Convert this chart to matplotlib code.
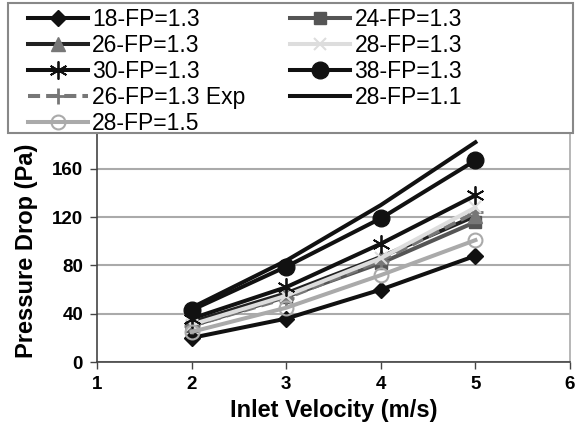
import matplotlib
matplotlib.use("Agg")
import matplotlib.pyplot as plt
from matplotlib.patches import Rectangle

plt.rcParams['font.family'] = ['Liberation Sans', 'DejaVu Sans']

velocity = [2, 3, 4, 5]

dp_18_fp13 = [20, 36, 60, 88]
dp_24_fp13 = [30, 54, 82, 116]
dp_26_fp13 = [33, 57, 87, 121]
dp_28_fp13 = [31, 55, 86, 128]
dp_30_fp13 = [36, 62, 98, 138]
dp_38_fp13 = [43, 79, 119, 167]
dp_26_fp13_exp = [30, 53, 84, 124]
dp_28_fp11 = [45, 84, 130, 182]
dp_28_fp15 = [25, 45, 72, 101]

W, H = 579, 429
fig = plt.figure(figsize=(W / 100, H / 100), dpi=100)
ax = fig.add_axes([0.1675, 0.156, 0.817, 0.563])

lw = 2.9
h = {}
h["28-FP=1.1"], = ax.plot(velocity, dp_28_fp11, color="#111111", lw=lw)
h["18-FP=1.3"], = ax.plot(velocity, dp_18_fp13, color="#111111", lw=lw,
                          marker="D", ms=8, mfc="#111111", mec="#111111")
h["24-FP=1.3"], = ax.plot(velocity, dp_24_fp13, color="#555555", lw=lw,
                          marker="s", ms=9, mfc="#555555", mec="#555555")
h["26-FP=1.3"], = ax.plot(velocity, dp_26_fp13, color="#222222", lw=lw,
                          marker="^", ms=10, mfc="#777777", mec="#777777")
h["26-FP=1.3 Exp"], = ax.plot(velocity, dp_26_fp13_exp, color="#777777", lw=lw,
                              ls=(0, (3, 1.5)), marker="+", ms=11, mew=2)
h["28-FP=1.3"], = ax.plot(velocity, dp_28_fp13, color="#dddddd", lw=lw,
                          marker="x", ms=9, mew=1.5)
h["30-FP=1.3"], = ax.plot(velocity, dp_30_fp13, color="#111111", lw=lw,
                          marker=(6, 2, 0), ms=13, mew=1.3)
h["28-FP=1.5"], = ax.plot(velocity, dp_28_fp15, color="#aaaaaa", lw=lw,
                          marker="o", ms=10, mfc="none", mec="#aaaaaa", mew=1.5)
h["38-FP=1.3"], = ax.plot(velocity, dp_38_fp13, color="#111111", lw=lw,
                          marker="o", ms=12, mfc="#111111", mec="#111111")

ax.set_xlim(1, 6)
ax.set_ylim(0, 200)
ax.set_xticks([1, 2, 3, 4, 5, 6])
ax.set_yticks([0, 40, 80, 120, 160, 200])
ax.yaxis.grid(True, color="#aaaaaa", lw=1.5)
ax.set_axisbelow(True)
for s in ["left", "bottom"]:
    ax.spines[s].set_color("#444444")
    ax.spines[s].set_linewidth(1.2)
for s in ["right", "top"]:
    ax.spines[s].set_color("#aaaaaa")
    ax.spines[s].set_linewidth(1.2)
ax.tick_params(axis="both", direction="out", length=5, width=1, color="#444444",
               labelsize=13.5, pad=5)
for t in ax.get_xticklabels() + ax.get_yticklabels():
    t.set_fontweight("bold")

ax.set_xlabel("Inlet Velocity (m/s)", fontsize=17, fontweight="bold", labelpad=4)
ax.set_ylabel("Pressure Drop (Pa)", fontsize=17, fontweight="bold")
ax.yaxis.set_label_coords(-0.125, 0.46)

# legend box sits over the top of the plot area
box = Rectangle((8 / W, 1 - 133 / H), 565 / W, 130 / H, transform=fig.transFigure,
                facecolor="white", edgecolor="#888888", lw=1.5, zorder=4)
fig.patches.append(box)

order = ["18-FP=1.3", "26-FP=1.3", "30-FP=1.3", "26-FP=1.3 Exp", "28-FP=1.5",
         "24-FP=1.3", "28-FP=1.3", "38-FP=1.3", "28-FP=1.1"]
leg = fig.legend([h[k] for k in order], order, ncol=2, loc="upper left",
                 bbox_to_anchor=(28 / W, 1 - 8 / H),
                 fontsize=16.5, frameon=False, handlelength=2.6,
                 handletextpad=0.2, labelspacing=0.13, borderpad=0,
                 columnspacing=1.95, borderaxespad=0)
leg.set_zorder(5)

fig.savefig("out.png", dpi=100)
